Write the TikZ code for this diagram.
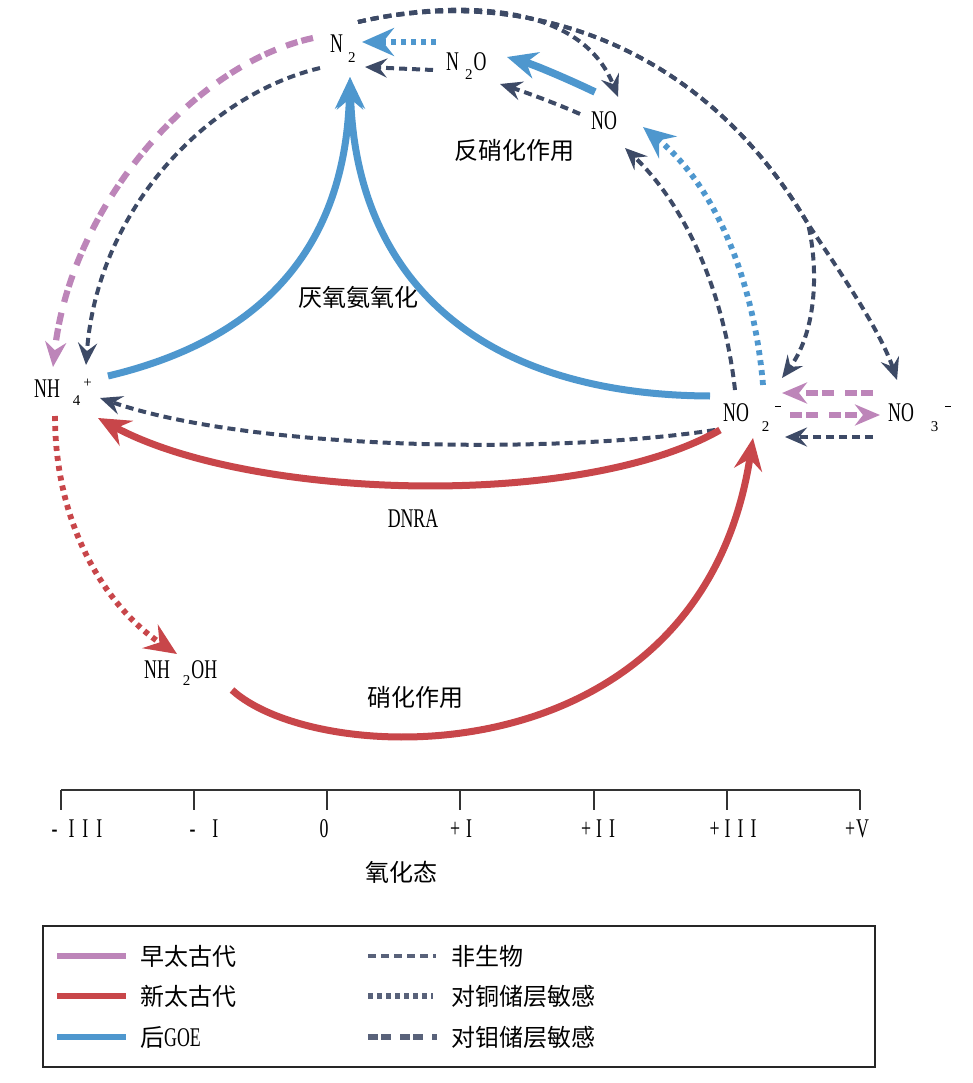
\documentclass[tikz,border=0pt]{standalone}
\usepackage{fontspec}
\setmainfont[FakeStretch=0.66]{Liberation Serif}
\newfontfamily\subfont{Liberation Serif}
\newfontfamily\cjk{Noto Sans CJK SC}
\usetikzlibrary{arrows.meta}
\definecolor{cpink}{HTML}{BD85B9}
\definecolor{cred}{HTML}{C8464A}
\definecolor{cblue}{HTML}{4E97CE}
\definecolor{cnavy}{HTML}{3D4A66}
\definecolor{cgray}{HTML}{59627A}
\definecolor{caxis}{HTML}{333333}
\newcommand{\mysub}[2]{\raisebox{-#1}{\subfont\fontsize{15}{15}\selectfont #2}}
\newcommand{\mysupplus}[1]{\raisebox{#1}{\subfont\fontsize{15}{15}\selectfont +}}
\newcommand{\mysupminus}[1]{\raisebox{#1}{\rule{6pt}{1.3pt}}}
\tikzset{
  species/.style={anchor=base west, inner sep=0pt},
  lbl/.style={inner sep=0pt, font=\fontsize{24}{26}\selectfont\cjk},
  tipnavy/.style={-{Stealth[length=22pt,width=19pt,inset=8pt]}},
  tippink/.style={-{Stealth[length=25pt,width=21pt,inset=8pt]}},
  tipbig/.style={-{Stealth[length=32pt,width=28pt,inset=11pt]}},
  abio/.style={draw=cnavy, line width=4pt, dash pattern=on 8pt off 5pt, tipnavy},
  cupath/.style={line width=5.8pt, dash pattern=on 5pt off 5pt},
  mopath/.style={draw=cpink, line width=6.2pt, dash pattern=on 12pt off 4pt on 12pt off 11pt, tippink},
  thick solid/.style={line width=7pt},
  axisline/.style={draw=caxis, line width=1.3pt},
  legline/.style={line width=5.5pt},
}
\begin{document}
\begin{tikzpicture}[x=1pt,y=-1pt, every node/.style={inner sep=0pt, font=\fontsize{27}{29}\selectfont}]
\useasboundingbox (0,0) rectangle (972,1083);

% species
\node[species] (n2) at (330,53) {N\hspace{5pt}\mysub{10pt}{2}};
\node[species] (n2o) at (446,71) {N\hspace{6pt}\mysub{9pt}{2}\hspace{1pt}O};
\node[species] (no) at (591,130) {NO};
\node[species] (nh4) at (34,397) {NH\hspace{13pt}\mysub{8pt}{4}\hspace{3pt}\mysupplus{10pt}};
\node[species] (no2) at (723,421) {NO\hspace{13pt}\mysub{10pt}{2}\hspace{6pt}\mysupminus{14pt}};
\node[species] (no3) at (888,421) {NO\hspace{17pt}\mysub{10pt}{3}\hspace{7pt}\mysupminus{14pt}};
\node[species] (nh2oh) at (144,678) {NH\hspace{13pt}\mysub{7pt}{2}\hspace{1pt}OH};

% process labels
\node[lbl] (lden) at (514,150) {反硝化作用};
\node[lbl] (lana) at (358,297) {厌氧氨氧化};
\node (ldnra) at (413,519) {DNRA};
\node[lbl] (lnit) at (415,697) {硝化作用};

% abiotic big arcs from N2
\draw[abio] ([shift={(28,-31)}]n2.base west) .. controls (450,0) and (580,0) .. ([shift={(27,-33)}]no.base west);
\draw[abio] ([shift={(28,-31)}]n2.base west) .. controls (520,-15) and (700,40) .. (808,224) .. controls (818,265) and (818,330) .. ([shift={(59,-43)}]no2.base west);
\draw[abio] ([shift={(28,-31)}]n2.base west) .. controls (520,-15) and (700,40) .. (808,224) .. controls (840,272) and (880,330) .. ([shift={(9,-41)}]no3.base west);

% N2 -> NH4+
\draw[mopath] ([shift={(-17,-15)}]n2.base west) .. controls (190,65) and (70,210) .. ([shift={(19,-30)}]nh4.base west);
\draw[abio] ([shift={(-10,15)}]n2.base west) .. controls (207,95) and (97,210) .. ([shift={(52,-32)}]nh4.base west);

% anammox
\draw[cblue, thick solid, tipbig] ([shift={(74,-21)}]nh4.base west) .. controls (260,340) and (345,250) .. ([shift={(20,24)}]n2.base west);
\draw[cblue, thick solid, tipbig] ([shift={(-13,-25)}]no2.base west) .. controls (480,395) and (356,280) .. ([shift={(20,24)}]n2.base west);

% N2O -> N2
\draw[cblue, cupath, tipbig] ([shift={(-10,-29)}]n2o.base west) -- ([shift={(32,-11)}]n2.base west);
\draw[abio] ([shift={(-13,-1)}]n2o.base west) -- ([shift={(35,14)}]n2.base west);

% NO -> N2O
\draw[cblue, line width=7.5pt, -{Stealth[length=30pt,width=27pt,inset=10pt]}] ([shift={(4,-38)}]no.base west) .. controls (570,80) and (535,65) .. ([shift={(61,-14)}]n2o.base west);
\draw[abio] ([shift={(-11,-16)}]no.base west) .. controls (555,103) and (525,92) .. ([shift={(54,13)}]n2o.base west);

% NO2- -> NO
\draw[abio] ([shift={(12,-31)}]no2.base west) .. controls (725,300) and (690,210) .. ([shift={(34,18)}]no.base west);
\draw[cblue, cupath, tipbig] ([shift={(40,-36)}]no2.base west) .. controls (755,290) and (720,190) .. ([shift={(52,-3)}]no.base west);

% NO3- <-> NO2-
\draw[mopath] ([shift={(-15,-28)}]no3.base west) -- ([shift={(59,-28)}]no2.base west);
\draw[mopath] ([shift={(67,-6)}]no2.base west) -- ([shift={(-8,-6)}]no3.base west);
\draw[abio] ([shift={(-15,16)}]no3.base west) -- ([shift={(62,16)}]no2.base west);

% NO2- -> NH4+
\draw[abio] ([shift={(-8,9)}]no2.base west) .. controls (550,455) and (250,450) .. ([shift={(66,1)}]nh4.base west);
\draw[cred, thick solid, tipbig] ([shift={(-3,9)}]no2.base west) .. controls (580,510) and (250,500) .. ([shift={(64,21)}]nh4.base west);

% NH4+ -> NH2OH
\draw[cred, cupath, tipbig] ([shift={(21,19)}]nh4.base west) .. controls (55,530) and (110,610) .. ([shift={(33,-24)}]nh2oh.base west);

% NH2OH -> NO2-
\draw[cred, thick solid, tipbig] ([shift={(88,12)}]nh2oh.base west) .. controls (320,770) and (700,780) .. ([shift={(30,17)}]no2.base west);

% axis
\coordinate (ax0) at (61,790);
\coordinate (ax1) at (860,790);
\draw[axisline] (ax0) -- (ax1);
\foreach \x in {61,194,327,460,594,727,860} \draw[axisline] (\x,790) -- (\x,810);
\node[anchor=base] (t1) at (77,837) {-\hspace{11pt}I\hspace{8pt}I\hspace{8pt}I};
\node[anchor=base] (t2) at (204,837) {-\hspace{17pt}I};
\node[anchor=base] (t3) at (324,837) {0};
\node[anchor=base] (t4) at (461,837) {+\hspace{6pt}I};
\node[anchor=base] (t5) at (598,837) {+\hspace{5pt}I\hspace{7pt}I};
\node[anchor=base] (t6) at (733,837) {+\hspace{5pt}I\hspace{7pt}I\hspace{7pt}I};
\node[anchor=base] (t7) at (857,837) {+\hspace{1pt}V};
\node[lbl] (laxis) at (401,872) {氧化态};

% legend
\draw[line width=1.2pt, draw=black!85] (43,926) rectangle (875,1067);
\draw[legline, cpink] (57,956) -- (126,956);
\draw[legline, cred] (57,996) -- (126,996);
\draw[legline, cblue] (57,1037) -- (126,1037);
\node[anchor=west, font=\fontsize{24}{26}\selectfont\cjk] (lg1) at (140,956) {早太古代};
\node[anchor=west, font=\fontsize{24}{26}\selectfont\cjk] (lg2) at (140,996) {新太古代};
\node[anchor=west] (lg3) at (140,1037) {{\fontsize{24}{26}\selectfont\cjk 后}GOE};
\draw[draw=cgray, line width=4pt, dash pattern=on 8pt off 5pt] (368,956) -- (436,956);
\draw[draw=cgray, line width=5.5pt, dash pattern=on 5pt off 4pt] (368,996) -- (433,996);
\draw[draw=cgray, line width=6pt, dash pattern=on 10pt off 3pt on 10pt off 9pt] (368,1037) -- (437,1037);
\node[anchor=west, font=\fontsize{24}{26}\selectfont\cjk] (lg4) at (451,956) {非生物};
\node[anchor=west, font=\fontsize{24}{26}\selectfont\cjk] (lg5) at (451,996) {对铜储层敏感};
\node[anchor=west, font=\fontsize{24}{26}\selectfont\cjk] (lg6) at (451,1037) {对钼储层敏感};
\end{tikzpicture}
\end{document}
